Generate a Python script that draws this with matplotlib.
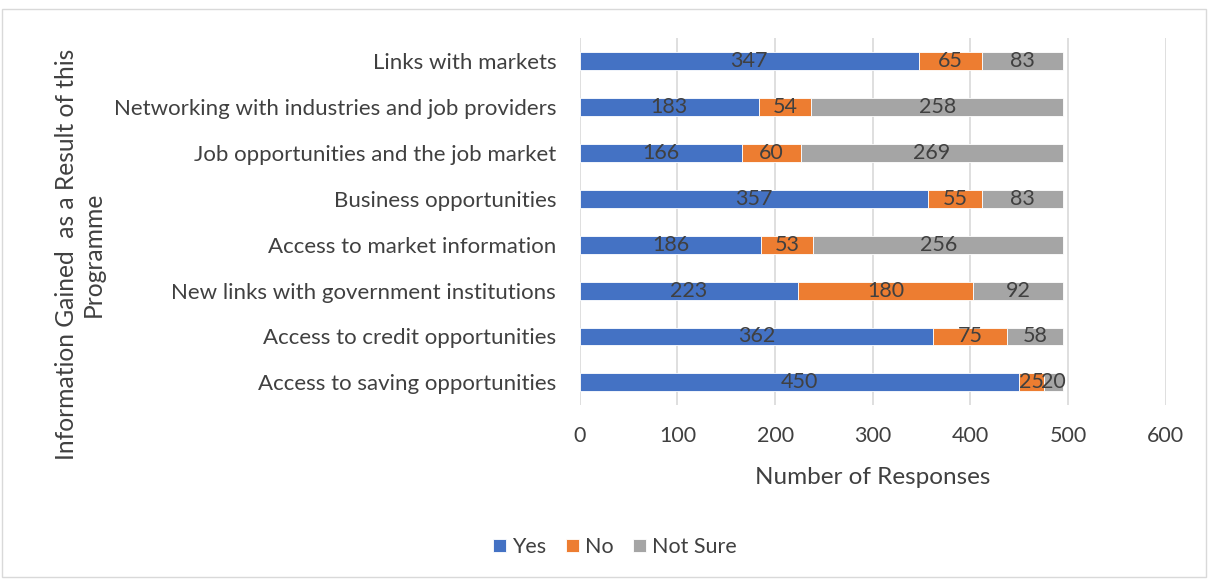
import numpy as np
import matplotlib.pyplot as plt
from matplotlib.patches import Rectangle

plt.rcParams['font.family'] = ['Lato', 'DejaVu Sans']

# survey items, bottom to top
items = ["Access to saving opportunities", "Access to credit opportunities",
         "New links with government institutions", "Access to market information",
         "Business opportunities", "Job opportunities and the job market",
         "Networking with industries and job providers", "Links with markets"]
yes = [450, 362, 223, 186, 357, 166, 183, 347]
no = [25, 75, 180, 53, 55, 60, 54, 65]
not_sure = [20, 58, 92, 256, 83, 269, 258, 83]
series = [("Yes", yes, "#4472C4"), ("No", no, "#ED7D31"), ("Not Sure", not_sure, "#A5A5A5")]

fig = plt.figure(figsize=(12.08, 5.79), dpi=100)
ax = fig.add_axes([0.480, 0.300, 0.485, 0.634])

txt = "#404040"
y = np.arange(len(items))
left = np.zeros(len(items))
for name, vals, col in series:
    vals = np.array(vals)
    ax.barh(y, vals, left=left, height=0.39, color=col, label=name,
            edgecolor="white", linewidth=0.6, zorder=3)
    for yi, l, v in zip(y, left, vals):
        ax.text(l + v / 2, yi, str(v), ha="center", va="center",
                fontsize=15.5, color=txt, zorder=4)
    left = left + vals

ax.set_xlim(0, 600)
ax.set_ylim(-0.5, len(items) - 0.5)
ax.set_xticks(range(0, 601, 100))
ax.set_yticks(y)
ax.set_yticklabels(items, fontsize=16)
ax.tick_params(axis="both", length=0, labelsize=15.5, labelcolor=txt)
ax.tick_params(axis="y", pad=17, labelsize=16)
ax.tick_params(axis="x", pad=15)
ax.grid(axis="x", color="#D9D9D9", linewidth=1.2, zorder=0)
for s in ax.spines.values():
    s.set_visible(False)

ax.set_xlabel("Number of Responses", fontsize=17.5, color=txt, labelpad=15)
fig.text(0.066, 1 - 254 / 579, "Information Gained  as a Result of this\nProgramme",
         rotation=90, ha="center", va="center", fontsize=17.7, color=txt,
         multialignment="center", linespacing=1.2)

fig.legend(loc="center", bbox_to_anchor=(615 / 1208, 1 - 547 / 579), ncol=3,
           frameon=False, fontsize=15.5, handlelength=0.6, handleheight=0.6,
           handletextpad=0.3, columnspacing=0.9, labelcolor=txt)

fig.patches.append(Rectangle((0.002, 0.003), 0.996, 0.982, transform=fig.transFigure,
                             fill=False, edgecolor="#D9D9D9", linewidth=1))

fig.savefig("out.png", dpi=100)
